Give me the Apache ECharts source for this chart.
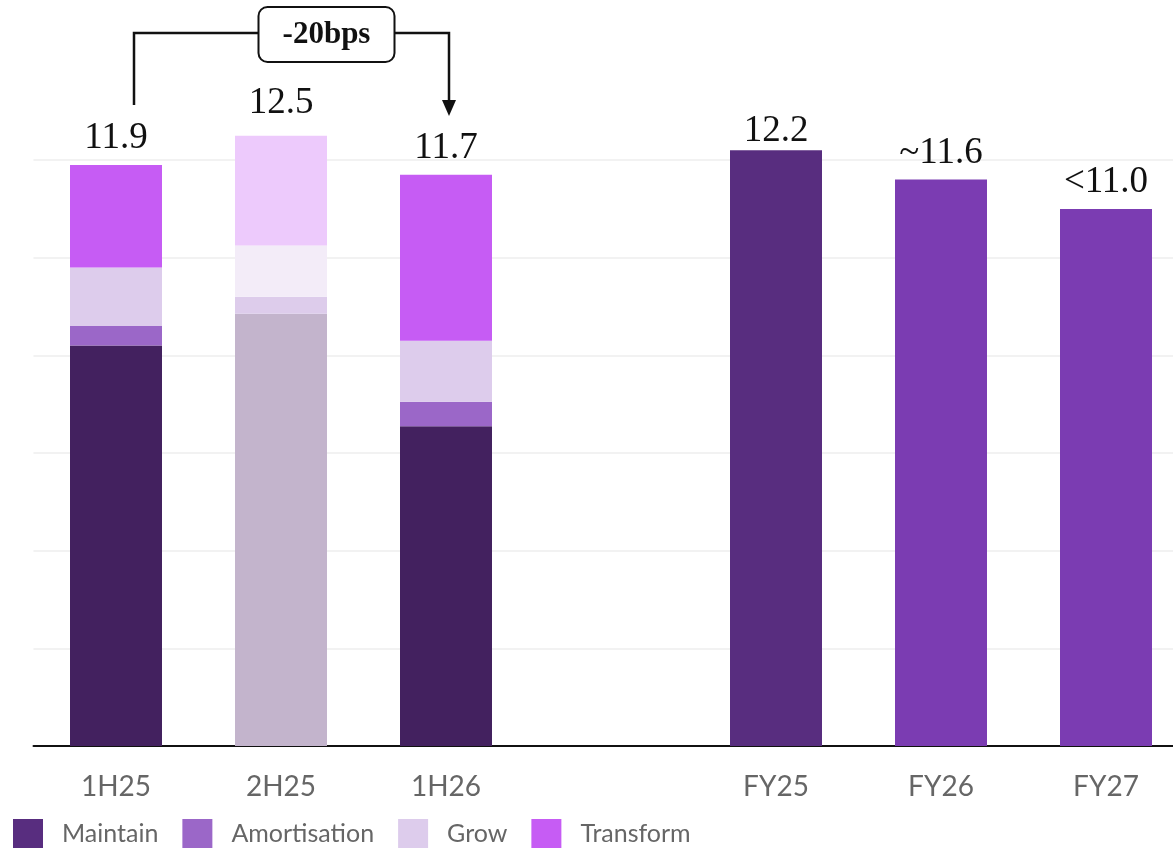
<!DOCTYPE html>
<html>
<head>
<meta charset="utf-8">
<script src="https://cdn.jsdelivr.net/npm/echarts@6/dist/echarts.min.js"></script>
<style>
    html, body { margin: 0; padding: 0; background: #ffffff; }
    #chart { width: 1173px; height: 849px; }
</style>
</head>
<body>
<div id="chart"></div>
<script>
    // categories (blank one is the gap between halves and full years)
    var categories = ['1H25', '2H25', '1H26', '', 'FY25', 'FY26', 'FY27'];

    // stacked half-year components
    var maintain     = [8.2, 8.85, 6.55, null, null, null, null];
    var amortisation = [0.4, 0.35, 0.5,  null, null, null, null];
    var grow         = [1.2, 1.05, 1.25, null, null, null, null];
    var transform    = [2.1, 2.25, 3.4,  null, null, null, null];
    var halfLabels   = ['11.9', '12.5', '11.7', '', '', '', ''];

    // full year totals
    var fullYear     = [null, null, null, null, 12.2, 11.6, 11.0];
    var fyLabels     = ['', '', '', '', '12.2', '~11.6', '<11.0'];

    var chart = echarts.init(document.getElementById('chart'));

    var serif = "'Liberation Serif', 'DejaVu Serif', serif";
    var sans = "Lato, 'Noto Sans', sans-serif";

    // 2H25 bar is drawn faded
    var fadedIdx = 1;
    function build(vals, color, faded) {
        return vals.map(function (v, i) {
            if (i === fadedIdx) return { value: v, itemStyle: { color: faded } };
            return { value: v, itemStyle: { color: color } };
        });
    }

    var transformData = build(transform, '#C65CF4', '#EDCAFC');
    // label gaps differ a bit on the original
    transformData[1].label = { distance: 14 };

    var fyColors = ['', '', '', '', '#582D7F', '#7B3CB2', '#7B3CB2'];
    var fyData = fullYear.map(function (v, i) {
        var d = { value: v, itemStyle: { color: fyColors[i] || '#7B3CB2' } };
        if (i === 4) d.label = { distance: 1 };
        return d;
    });

    var option = {
        animation: false,
        backgroundColor: '#ffffff',
        grid: { left: 33.5, width: 1155, top: 62.4, bottom: 103, outerBoundsMode: 'none', containLabel: false },
        legend: {
            left: 13,
            top: 819,
            padding: 0,
            itemWidth: 30,
            itemHeight: 29,
            itemGap: 24,
            icon: 'rect',
            textStyle: { fontFamily: sans, fontSize: 25, color: '#666666', padding: [0, 0, 0, 14] },
            data: [
                { name: 'Maintain', itemStyle: { color: '#582D7F' } },
                { name: 'Amortisation', itemStyle: { color: '#9B67C8' } },
                { name: 'Grow', itemStyle: { color: '#DDCCEC' } },
                { name: 'Transform', itemStyle: { color: '#C65CF4' } }
            ]
        },
        xAxis: {
            type: 'category',
            data: categories,
            axisTick: { show: false },
            axisLine: { lineStyle: { color: '#111111', width: 2 } },
            axisLabel: { fontFamily: sans, fontSize: 28, color: '#666666', margin: 27 }
        },
        yAxis: {
            type: 'value',
            min: 0,
            max: 14,
            interval: 2,
            axisLabel: { show: false },
            axisLine: { show: false },
            axisTick: { show: false },
            splitLine: { show: true, showMaxLine: false, lineStyle: { color: '#F2F2F2', width: 2 } }
        },
        series: [
            {
                name: 'Maintain', type: 'bar', stack: 'a', barWidth: 92,
                data: build(maintain, '#43215F', '#C3B4CC')
            },
            {
                name: 'Amortisation', type: 'bar', stack: 'a',
                data: build(amortisation, '#9B67C8', '#DDCCEB')
            },
            {
                name: 'Grow', type: 'bar', stack: 'a',
                data: build(grow, '#DDCCEC', '#F3ECF8')
            },
            {
                name: 'Transform', type: 'bar', stack: 'a',
                data: transformData,
                label: {
                    show: true, position: 'top', distance: 8,
                    fontFamily: serif, fontSize: 37, color: '#111111',
                    formatter: function (p) { return halfLabels[p.dataIndex]; }
                }
            },
            {
                name: 'Full year', type: 'bar', stack: 'a',
                data: fyData,
                label: {
                    show: true, position: 'top', distance: 8,
                    fontFamily: serif, fontSize: 37, color: '#111111',
                    formatter: function (p) { return fyLabels[p.dataIndex]; }
                }
            }
        ]
    };

    chart.setOption(option);

    // -20bps bracket from 1H25 to 1H26
    var x1 = chart.convertToPixel({ xAxisIndex: 0 }, '1H25') + 18;
    var x3 = chart.convertToPixel({ xAxisIndex: 0 }, '1H26') + 3;
    var lineY = 33, leftBottom = 105, arrowTip = 116;
    var boxW = 136, boxH = 55;
    var boxX = (x1 + x3) / 2 - boxW / 2 + 35;
    var stroke = { stroke: '#111111', lineWidth: 2.5, fill: null };

    chart.setOption({
        graphic: [
            { type: 'polyline', shape: { points: [[x1, leftBottom], [x1, lineY], [boxX, lineY]] }, style: stroke },
            { type: 'polyline', shape: { points: [[boxX + boxW, lineY], [x3, lineY], [x3, arrowTip - 14]] }, style: stroke },
            { type: 'polygon', shape: { points: [[x3 - 7, arrowTip - 16], [x3 + 7, arrowTip - 16], [x3, arrowTip]] }, style: { fill: '#111111' } },
            {
                type: 'rect',
                shape: { x: boxX, y: 7, width: boxW, height: boxH, r: 9 },
                style: { fill: '#ffffff', stroke: '#111111', lineWidth: 2 }
            },
            {
                type: 'text',
                x: boxX + boxW / 2, y: 7 + boxH / 2,
                style: {
                    text: '-20bps', fontFamily: serif, fontWeight: 'bold', fontSize: 31,
                    fill: '#111111', align: 'center', verticalAlign: 'middle'
                }
            }
        ]
    });
</script>
</body>
</html>
